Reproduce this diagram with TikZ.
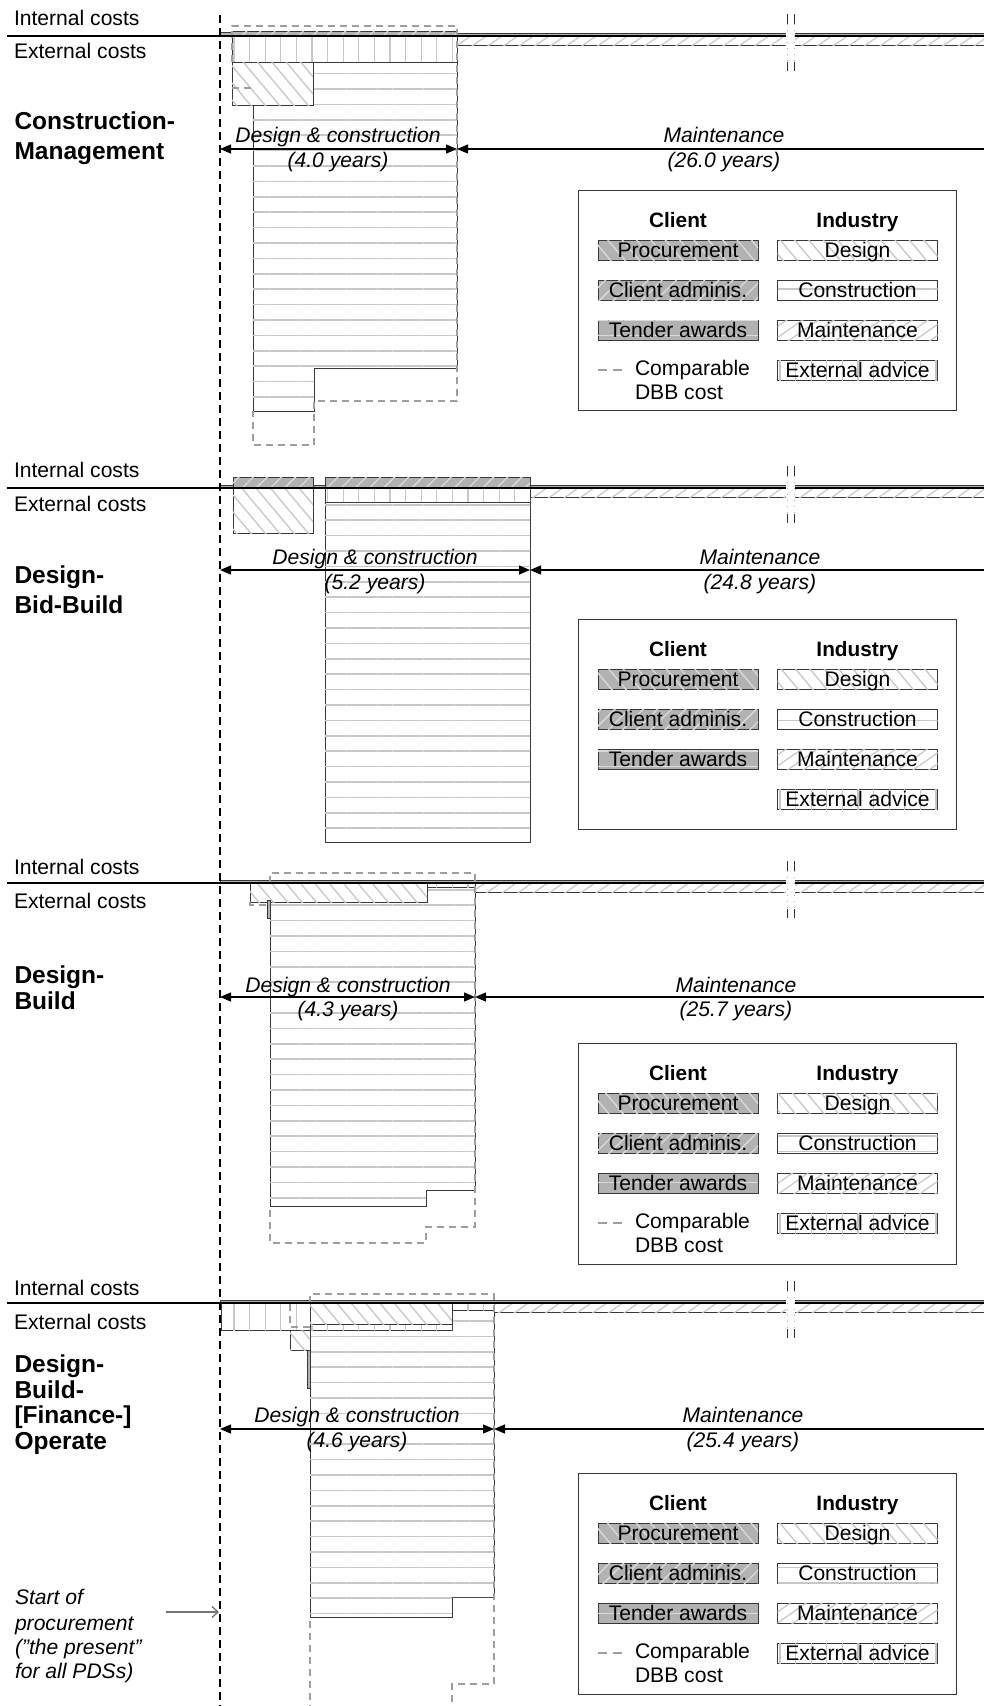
\documentclass[tikz,border=0pt]{standalone}
\usepackage{fontspec}
\setmainfont{Liberation Sans}
\usetikzlibrary{patterns.meta,arrows.meta}
\definecolor{hatchc}{gray}{0.78}
\definecolor{cfill}{gray}{0.70}
\definecolor{clines}{gray}{0.86}
\definecolor{edgec}{gray}{0.22}
\definecolor{dbbc}{gray}{0.62}
\tikzset{
  txtS/.style={inner sep=0pt, outer sep=0pt, text height=15pt, text depth=0pt, font=\fontsize{21.1}{25}\selectfont},
  boldS/.style={txtS, font=\fontsize{20.8}{25}\selectfont\bfseries},
  pdsS/.style={inner sep=0pt, outer sep=0pt, text height=17.5pt, text depth=0pt, font=\fontsize{24.5}{29}\selectfont\bfseries, anchor=west},
  itS/.style={txtS, font=\fontsize{21.1}{25}\selectfont\itshape},
  desP/.style={fill=white, postaction={pattern={Lines[angle=-50,distance=11pt,line width=1.3pt]}, pattern color=hatchc}},
  conP/.style={fill=white, postaction={pattern={Lines[angle=0,distance=15.4pt,line width=1.6pt]}, pattern color=hatchc}},
  extP/.style={fill=white, postaction={pattern={Lines[angle=90,distance=15.6pt,line width=1.3pt]}, pattern color=hatchc}},
  mntP/.style={fill=white, postaction={pattern={Lines[angle=35,distance=9pt,line width=1.2pt]}, pattern color=hatchc}},
  prcP/.style={fill=cfill, postaction={pattern={Lines[angle=-50,distance=11pt,line width=1.3pt]}, pattern color=clines}},
  admP/.style={fill=cfill, postaction={pattern={Lines[angle=45,distance=10pt,line width=1.3pt]}, pattern color=clines}},
  tenP/.style={fill=cfill, postaction={pattern={Lines[angle=0,distance=15.4pt,line width=1.6pt]}, pattern color=clines}},
  barS/.style={draw=edgec, line width=0.9pt},
  thinC/.style={fill=cfill, draw=edgec, line width=0.6pt},
  dbbS/.style={draw=dbbc, line width=1.2pt, dash pattern=on 7pt off 5pt},
  baseS/.style={draw=black, line width=1.6pt},
  nowS/.style={draw=black, line width=1.2pt, dash pattern=on 8pt off 5pt},
  dimS/.style={draw=black, line width=1.2pt, >={Triangle[length=11pt,width=9pt]}, <->},
  legframe/.style={draw=edgec, line width=1pt},
  legbox/.style={txtS, draw=edgec, line width=0.9pt, minimum width=160pt, minimum height=20pt},
  tickS/.style={draw=black!80, line width=1pt},
  ptrS/.style={draw=black!55, line width=1.3pt, -{Straight Barb[length=6pt,width=11pt]}},
}
% legend: #1 prefix, #2 top, #3 height, #4 comparable row (1/0)
\newcommand\mylegend[4]{%
  \draw[legframe] (578,#2) rectangle (956,{#2+#3});
  \node[boldS] (#1-cl) at (678,{#2+30}) {Client};
  \node[boldS] (#1-in) at (857.5,{#2+30}) {Industry};
  \node[legbox, prcP] (#1-p) at (678,{#2+60}) {Procurement};
  \node[legbox, admP] (#1-a) at (678,{#2+100}) {Client adminis.};
  \node[legbox, tenP] (#1-t) at (678,{#2+140}) {Tender awards};
  \node[legbox, desP] (#1-d) at (857.5,{#2+60}) {Design};
  \node[legbox, conP] (#1-c) at (857.5,{#2+100}) {Construction};
  \node[legbox, mntP] (#1-m) at (857.5,{#2+140}) {Maintenance};
  \node[legbox, extP] (#1-e) at (857.5,{#2+180}) {External advice};
  \ifnum#4=1
    \coordinate (#1-k1) at (598,{#2+180});
    \coordinate (#1-k2) at (622,{#2+180});
    \draw[draw=dbbc, line width=1.2pt, dash pattern=on 9pt off 6pt] (#1-k1) -- (#1-k2);
    \node[txtS, anchor=west] (#1-cmp) at (635,{#2+178}) {Comparable};
    \node[txtS, anchor=west] (#1-dbb) at (635,{#2+202}) {DBB cost};
  \fi
}
% break mark: #1 prefix, #2 line y
\newcommand\mybreak[2]{%
  \fill[white] (786,{#2-4}) rectangle (795,{#2+12});
  \coordinate (#1-b1) at (787,{#2-22}); \coordinate (#1-b2) at (787,{#2-12});
  \coordinate (#1-b3) at (794,{#2-22}); \coordinate (#1-b4) at (794,{#2-12});
  \coordinate (#1-b5) at (787,{#2+26}); \coordinate (#1-b6) at (787,{#2+35});
  \coordinate (#1-b7) at (794,{#2+26}); \coordinate (#1-b8) at (794,{#2+35});
  \draw[draw=black!30, line width=0.6pt, dash pattern=on 1pt off 5pt] (#1-b2) -- (#1-b5) (#1-b4) -- (#1-b7);
  \draw[tickS] (#1-b1) -- (#1-b2) (#1-b3) -- (#1-b4) (#1-b5) -- (#1-b6) (#1-b7) -- (#1-b8);
}
\begin{document}
\begin{tikzpicture}[x=1pt,y=-1pt]
\useasboundingbox (0,0) rectangle (984,1706);
\fill[white] (0,0) rectangle (984,1706);

%================ Construction-Management (line y=36)
\draw[thinC] (220,32) rectangle (232,36);
\draw[barS, admP] (232,31) rectangle (457,36);
\draw[thinC] (457,33.5) rectangle (984,36);
\draw[barS, extP] (232,36) rectangle (457,62);
\draw[barS, conP] (253,62) -- (457,62) -- (457,368) -- (314,368) -- (314,411) -- (253,411) -- cycle;
\draw[barS, desP] (232,62) rectangle (313,105);
\draw[barS, mntP] (457,36) rectangle (984,45);
\draw[dbbS] (232,62) -- (232,26) -- (457,26) -- (457,401) -- (314,401) -- (314,445) -- (253,445) -- (253,411);
\draw[dbbS] (232,88) -- (253,88);
\coordinate (cm-l0) at (7,36); \coordinate (cm-l1) at (984,36);
\draw[baseS] (cm-l0) -- (cm-l1);
\mybreak{cm}{36}
\node[txtS, anchor=west] (cm-int) at (14,18) {Internal costs};
\node[txtS, anchor=west] (cm-ext) at (14,51) {External costs};
\node[pdsS] (cm-n1) at (14.5,121) {Construction-};
\node[pdsS] (cm-n2) at (14.5,151) {Management};
\coordinate (cm-a0) at (220,149); \coordinate (cm-a1) at (457,149); \coordinate (cm-a2) at (995,149);
\draw[dimS] (cm-a0) -- (cm-a1);
\draw[dimS] (cm-a1) -- (cm-a2);
\node[itS] (cm-dc) at (338,135) {Design \& construction};
\node[itS] (cm-dcy) at (338,160) {(4.0 years)};
\node[itS] (cm-mt) at (724,135) {Maintenance};
\node[itS] (cm-mty) at (724,160) {(26.0 years)};
\mylegend{cml}{190}{220}{1}

%================ Design-Bid-Build (line y=488)
\draw[thinC] (220,485.5) rectangle (984,488);
\draw[barS, admP] (233,477) rectangle (313,488);
\draw[barS, desP] (233,488) rectangle (313,533);
\draw[barS, admP] (325,477) rectangle (530,488);
\draw[barS, extP] (325,488) rectangle (530,502);
\draw[barS, conP] (325,502) rectangle (530,842);
\draw[barS, mntP] (530,488) rectangle (984,497);
\coordinate (dbb-l0) at (7,488); \coordinate (dbb-l1) at (984,488);
\draw[baseS] (dbb-l0) -- (dbb-l1);
\mybreak{dbb}{488}
\node[txtS, anchor=west] (dbb-int) at (14,470) {Internal costs};
\node[txtS, anchor=west] (dbb-ext) at (14,504) {External costs};
\node[pdsS] (dbb-n1) at (14.5,575) {Design-};
\node[pdsS] (dbb-n2) at (14.5,605) {Bid-Build};
\coordinate (dbb-a0) at (220,570); \coordinate (dbb-a1) at (530,570); \coordinate (dbb-a2) at (995,570);
\draw[dimS] (dbb-a0) -- (dbb-a1);
\draw[dimS] (dbb-a1) -- (dbb-a2);
\node[itS] (dbb-dc) at (375,557) {Design \& construction};
\node[itS] (dbb-dcy) at (375,582) {(5.2 years)};
\node[itS] (dbb-mt) at (760,557) {Maintenance};
\node[itS] (dbb-mty) at (760,582) {(24.8 years)};
\mylegend{dbbl}{619}{210}{0}

%================ Design-Build (line y=883)
\draw[thinC] (220,880) rectangle (984,883);
\draw[barS, conP] (270,883) -- (475,883) -- (475,1190) -- (426,1190) -- (426,1206) -- (270,1206) -- cycle;
\draw[barS, extP] (427,883) rectangle (475,887);
\draw[barS, desP] (250,883) rectangle (427,902);
\draw[thinC, line width=0.9pt] (267,900) rectangle (270,918);
\draw[barS, mntP] (475,883) rectangle (984,892);
\draw[dbbS] (270,883) -- (270,873) -- (475,873) -- (475,1227) -- (426,1227) -- (426,1243) -- (270,1243) -- (270,1206);
\draw[dbbS] (250,902) -- (250,905) -- (270,905);
\coordinate (db-l0) at (7,883); \coordinate (db-l1) at (984,883);
\draw[baseS] (db-l0) -- (db-l1);
\mybreak{db}{883}
\node[txtS, anchor=west] (db-int) at (14,867) {Internal costs};
\node[txtS, anchor=west] (db-ext) at (14,901) {External costs};
\node[pdsS] (db-n1) at (14.5,975) {Design-};
\node[pdsS] (db-n2) at (14.5,1001) {Build};
\coordinate (db-a0) at (220,997); \coordinate (db-a1) at (475,997); \coordinate (db-a2) at (995,997);
\draw[dimS] (db-a0) -- (db-a1);
\draw[dimS] (db-a1) -- (db-a2);
\node[itS] (db-dc) at (348,985) {Design \& construction};
\node[itS] (db-dcy) at (348,1009) {(4.3 years)};
\node[itS] (db-mt) at (736,985) {Maintenance};
\node[itS] (db-mty) at (736,1009) {(25.7 years)};
\mylegend{dbl}{1043}{221}{1}

%================ Design-Build-[Finance-]Operate (line y=1303)
\draw[thinC] (220,1300) rectangle (984,1303);
\draw[barS, conP] (310,1310) -- (494,1310) -- (494,1597) -- (452,1597) -- (452,1617) -- (310,1617) -- cycle;
\draw[barS, extP] (221,1303) rectangle (310,1330);
\draw[barS, extP] (310,1303) rectangle (452,1330);
\draw[barS, extP] (452,1303) rectangle (494,1310);
\draw[barS, desP] (310,1303) rectangle (452,1324);
\draw[barS, desP] (290,1330) rectangle (310,1350);
\draw[thinC, line width=0.9pt] (307,1350) rectangle (310,1388);
\draw[barS, mntP] (494,1303) rectangle (984,1312);
\draw[dbbS] (310,1303) -- (310,1294) -- (494,1294) -- (494,1684) -- (452,1684) -- (452,1712);
\draw[dbbS] (310,1712) -- (310,1617);
\draw[dbbS] (310,1327) -- (290,1327) -- (290,1303);
\coordinate (dbfo-l0) at (7,1303); \coordinate (dbfo-l1) at (984,1303);
\draw[baseS] (dbfo-l0) -- (dbfo-l1);
\mybreak{dbfo}{1303}
\node[txtS, anchor=west] (dbfo-int) at (14,1288) {Internal costs};
\node[txtS, anchor=west] (dbfo-ext) at (14,1322) {External costs};
\node[pdsS] (dbfo-n1) at (14.5,1364) {Design-};
\node[pdsS] (dbfo-n2) at (14.5,1390) {Build-};
\node[pdsS] (dbfo-n3) at (14.5,1415) {[Finance-]};
\node[pdsS] (dbfo-n4) at (14.5,1441) {Operate};
\coordinate (dbfo-a0) at (220,1429); \coordinate (dbfo-a1) at (494,1429); \coordinate (dbfo-a2) at (995,1429);
\draw[dimS] (dbfo-a0) -- (dbfo-a1);
\draw[dimS] (dbfo-a1) -- (dbfo-a2);
\node[itS] (dbfo-dc) at (357,1415) {Design \& construction};
\node[itS] (dbfo-dcy) at (357,1440) {(4.6 years)};
\node[itS] (dbfo-mt) at (743,1415) {Maintenance};
\node[itS] (dbfo-mty) at (743,1440) {(25.4 years)};
\mylegend{dbfol}{1473}{221}{1}

%================ start of procurement
\node[itS, anchor=west] (sp1) at (15,1597) {Start of};
\node[itS, anchor=west] (sp2) at (15,1623) {procurement};
\node[itS, anchor=west] (sp3) at (15,1647) {(”the present”};
\node[itS, anchor=west] (sp4) at (15,1671) {for all PDSs)};
\coordinate (sp-a) at (166,1612); \coordinate (sp-b) at (219,1612);
\draw[ptrS] (sp-a) -- (sp-b);

% the present (dashed vertical)
\coordinate (now0) at (220,15); \coordinate (now1) at (220,1706);
\draw[nowS] (now0) -- (now1);
\end{tikzpicture}
\end{document}
